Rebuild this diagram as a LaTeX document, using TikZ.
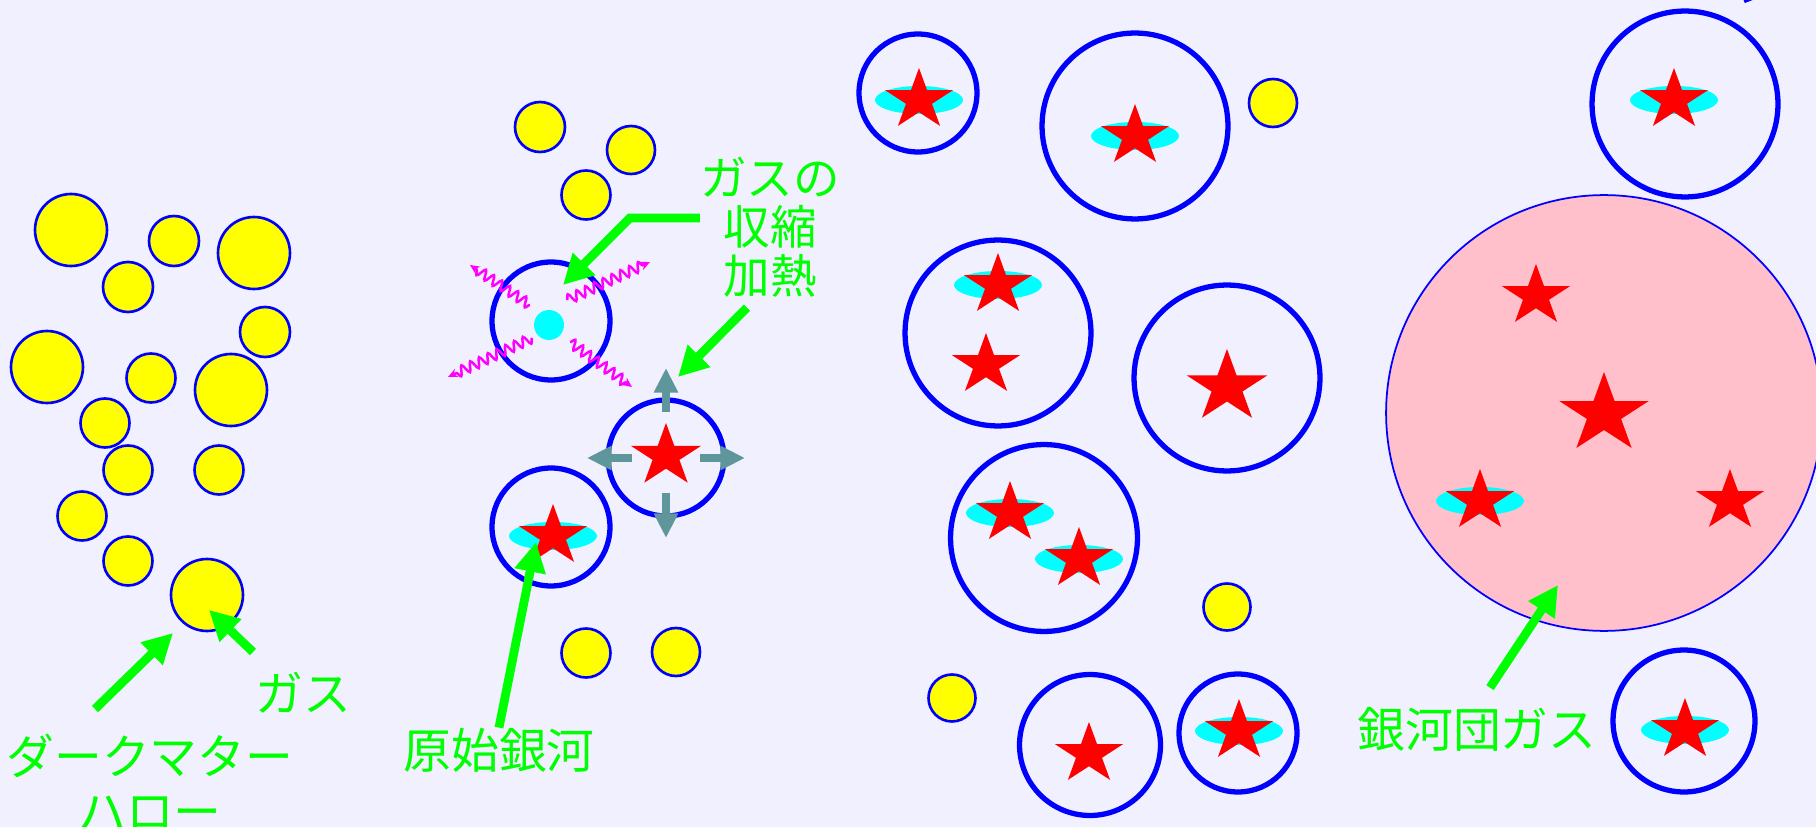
\documentclass[tikz,border=0pt]{standalone}
\usepackage{fontspec}
\newfontfamily\jpfont{Noto Sans CJK JP}
\usetikzlibrary{arrows.meta, calc, decorations.pathmorphing}

\definecolor{bgcol}{RGB}{240,240,255}
\definecolor{clusterpink}{RGB}{255,192,203}
\definecolor{tealgray}{RGB}{95,150,155}
\definecolor{diskcyan}{RGB}{0,255,255}
\definecolor{ballyellow}{RGB}{255,255,0}
\definecolor{wavemagenta}{RGB}{255,0,255}

% five-pointed star, slightly wide, unit outer radius
\tikzset{
  pics/gstar/.style={code={
    \fill[red, xscale=1.12] (-90:1) -- (-54:.382) -- (-18:1) -- (18:.382) -- (54:1)
      -- (90:.382) -- (126:1) -- (162:.382) -- (198:1) -- (234:.382) -- cycle;
  }}
}

\begin{document}
\begin{tikzpicture}[
    x=0.02cm, y=-0.02cm,
    gasball/.style={circle, draw=blue, fill=ballyellow, line width=1.5pt, inner sep=0pt, minimum size=#1*0.04cm},
    gasball/.default=24.5,
    halo/.style={circle, draw=blue, line width=3pt, inner sep=0pt, minimum size=#1*0.04cm},
    jplabel/.style={text=green, inner sep=0pt, font=\jpfont\fontsize{27.2}{32}\selectfont},
    garrow/.style={draw=green, line width=5pt, -{Triangle[length=17pt, width=17pt]}},
    push/.style={draw=tealgray, line width=4pt, -{Triangle[length=14pt, width=13pt]}},
    wave/.style={draw=wavemagenta, line width=1.4pt, -{Stealth[length=5.5pt, width=5pt]},
      decorate, decoration={snake, amplitude=2.8pt, segment length=5.5pt, post length=3pt}}
]
    % background
    \useasboundingbox (0,0) rectangle (1816,827);
    \fill[bgcol] (0,0) rectangle (1816,827);
    \draw[blue, line width=2.5pt] (1744,1) -- (1762,-6);

    % early universe: dark matter halos holding gas
    \foreach \x/\y/\r [count=\i] in {71/230/36, 174/241/25, 254/253/36, 128/287/25,
        265/332/25, 47/367/36, 151/378/24.5, 231/390/36, 105/423/24.5, 128/470/24.5,
        219/470/24.5, 82/516/24.5, 128/561/24.5, 207/595/36}
      \node[gasball=\r] (dm\i) at (\x,\y) {};

    % halos still without stars
    \foreach \x/\y/\r [count=\i] in {540/127/25, 631/150/24, 586/195/24.5, 586/653/24.5,
        676/652/24, 1273/103/24, 1227/607/23.5, 952/698/23.5}
      \node[gasball=\r] (hb\i) at (\x,\y) {};

    % collapsing cloud radiating away its heat
    \node[halo=59] (collapse) at (551,321) {};
    \fill[diskcyan] (549,325) circle [radius=15];
    \draw[wave] ($(collapse)+(-21,-16)$) -- ($(collapse)+(-81,-56)$);
    \draw[wave] ($(collapse)+(16,-21)$) -- ($(collapse)+(99,-59)$);
    \draw[wave] ($(collapse)+(-19,17)$) -- ($(collapse)+(-103,56)$);
    \draw[wave] ($(collapse)+(19,21)$) -- ($(collapse)+(81,66)$);

    % gas heated by the first stars
    \node[halo=58] (heating) at (666,458) {};
    \draw[push] ($(heating)+(0,-46)$) -- ($(heating)+(0,-90)$);
    \draw[push] ($(heating)+(0,35)$) -- ($(heating)+(0,80)$);
    \draw[push] ($(heating)+(-34,0)$) -- ($(heating)+(-79,0)$);
    \draw[push] ($(heating)+(34,0)$) -- ($(heating)+(79,0)$);

    \node[halo=59] (proto) at (551,527) {};

    % galaxies
    \node[halo=59] (gal1) at (918,93) {};
    \node[halo=93] (gal2) at (1135,126) {};
    \node[halo=93] (gal3) at (998,333) {};
    \node[halo=93] (gal4) at (1227,378) {};
    \node[halo=93.5] (gal5) at (1044,538) {};
    \node[halo=70.5] (gal6) at (1090,745) {};
    \node[halo=59] (gal7) at (1238,733) {};
    \node[halo=93] (gal8) at (1685,104) {};
    \node[halo=71] (gal9) at (1684,721) {};

    % cluster of galaxies in hot gas
    \node[circle, draw=blue, line width=1pt, fill=clusterpink, inner sep=0pt,
      minimum size=218*0.04cm] (cluster) at (1604,413) {};

    % stars with a gas disk
    \foreach \x/\y in {553/536, 919/100, 1135/136, 998/285, 1010/513, 1079/559,
        1239/731, 1674/100, 1480/501, 1685/730} {
      \fill[diskcyan] (\x,\y) ellipse [x radius=44, y radius=14];
      \pic[scale=32] at (\x,\y) {gstar};
    }
    % stars alone
    \foreach \x/\y/\r in {666/456/33, 986/365/32, 1227/387/38, 1089/754/32,
        1536/296/32, 1604/414/42, 1730/501/32}
      \pic[scale=\r] at (\x,\y) {gstar};

    % labels
    \node[jplabel] (gaslbl) at (303,693) {ガス};
    \node[jplabel, align=center, font=\jpfont\fontsize{27.2}{31}\selectfont]
      (dmlbl) at (150,782) {ダークマター\\ハロー};
    \node[jplabel, align=center, font=\jpfont\fontsize{26.5}{28}\selectfont]
      (heatlbl) at (770,227) {ガスの\\収縮\\加熱};
    \node[jplabel] (protolbl) at (499,750) {原始銀河};
    \node[jplabel] (icmlbl) at (1477,729) {銀河団ガス};

    % pointers
    \coordinate (dmtail) at (95,709);
    \coordinate (gastail) at (253,652);
    \draw[garrow] (dmtail) -- ($(dm14)+(-34,38)$);
    \draw[garrow] (gastail) -- ($(dm14)+(2,15)$);
    \draw[garrow] ($(heatlbl.west)+(0,-9)$) -- ++(-70,0) -- ($(collapse)+(12,-36)$);
    \draw[garrow] ($(heatlbl.south)+(-23,10)$) -- ($(heating)+(12,-81)$);
    \draw[garrow] (protolbl.north) -- ($(proto)+(-15,15)$);
    \draw[garrow] ($(icmlbl.north)+(13,-19)$) -- ($(cluster)+(-46,172)$);
\end{tikzpicture}
\end{document}
